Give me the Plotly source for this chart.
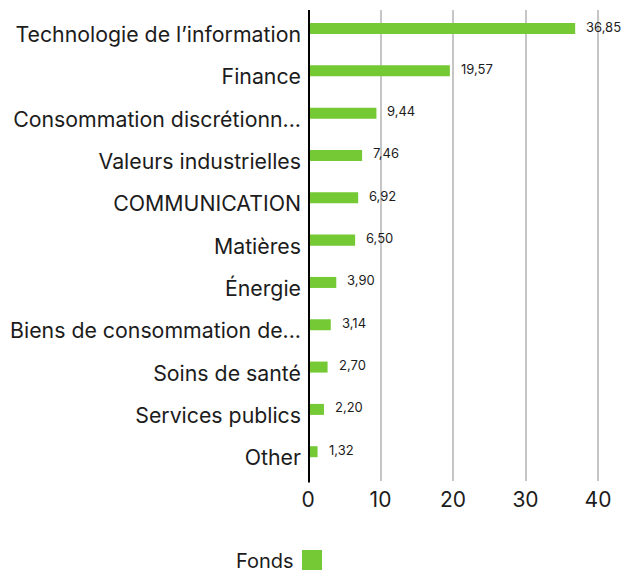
import plotly.graph_objects as go

categories = [
    "Technologie de l’information",
    "Finance",
    "Consommation discrétionn...",
    "Valeurs industrielles",
    "COMMUNICATION",
    "Matières",
    "Énergie",
    "Biens de consommation de...",
    "Soins de santé",
    "Services publics",
    "Other",
]
values = [36.85, 19.57, 9.44, 7.46, 6.92, 6.50, 3.90, 3.14, 2.70, 2.20, 1.32]
series_name = "Fonds"
x_ticks = [0, 10, 20, 30, 40]

W, H = 625, 573
L, R, T, B = 308, 20, 10, 92
PW, PH = W - L - R, H - T - B
GREEN = "#74C935"
TXT = "#1c1c1c"
FONT = "Inter"

def px_x(p):
    return (p - L) / PW

def px_y(p):
    return (H - B - p) / PH

idx = list(range(len(categories)))
bar_shift = 0.142
bar_w = 0.26

fig = go.Figure()
fig.add_trace(go.Bar(
    x=values, y=idx, orientation="h", name=series_name,
    marker=dict(color=GREEN, line=dict(width=0)),
    width=bar_w, offset=-bar_shift - bar_w / 2,
    showlegend=False, hoverinfo="x+y",
))

for i, v in zip(idx, values):
    fig.add_annotation(
        x=v, y=i - bar_shift, xref="x", yref="y",
        text=f"{v:.2f}".replace(".", ","), showarrow=False,
        xanchor="left", yanchor="middle", xshift=9, yshift=2,
        font=dict(family=FONT, size=13, color=TXT),
    )

# zero line
fig.add_shape(type="line", xref="x", yref="paper", x0=0, x1=0, y0=-0.003, y1=1.0,
              line=dict(color="black", width=4), layer="above")

# legend (text left of swatch)
fig.add_annotation(
    x=px_x(295), y=px_y(561), xref="paper", yref="paper",
    text=series_name, showarrow=False, xanchor="right", yanchor="middle",
    font=dict(family=FONT, size=20, color=TXT), borderpad=0,
)
fig.add_shape(type="rect", xref="paper", yref="paper",
              x0=px_x(302), x1=px_x(322), y0=px_y(570), y1=px_y(550),
              fillcolor=GREEN, line=dict(width=0))

fig.update_layout(
    width=W, height=H,
    margin=dict(l=L, r=R, t=T, b=B, pad=0, autoexpand=False),
    paper_bgcolor="white", plot_bgcolor="white",
    font=dict(family=FONT, color=TXT),
    bargap=0.7,
    xaxis=dict(
        range=[0, PW / 7.25], tickvals=x_ticks,
        ticktext=[str(t) for t in x_ticks],
        showgrid=True, gridcolor="#c6c6c6", gridwidth=2,
        zeroline=False, showline=False, ticks="",
        tickfont=dict(family=FONT, size=21, color=TXT),
        ticklabelstandoff=4, fixedrange=True, automargin=False,
    ),
    yaxis=dict(
        range=[10.55, -0.58], tickvals=idx, ticktext=categories,
        showgrid=False, zeroline=False, showline=False, ticks="",
        tickfont=dict(family=FONT, size=21.3, color=TXT),
        ticklabelstandoff=6, fixedrange=True, automargin=False,
    ),
)

fig.write_html("out.html")
